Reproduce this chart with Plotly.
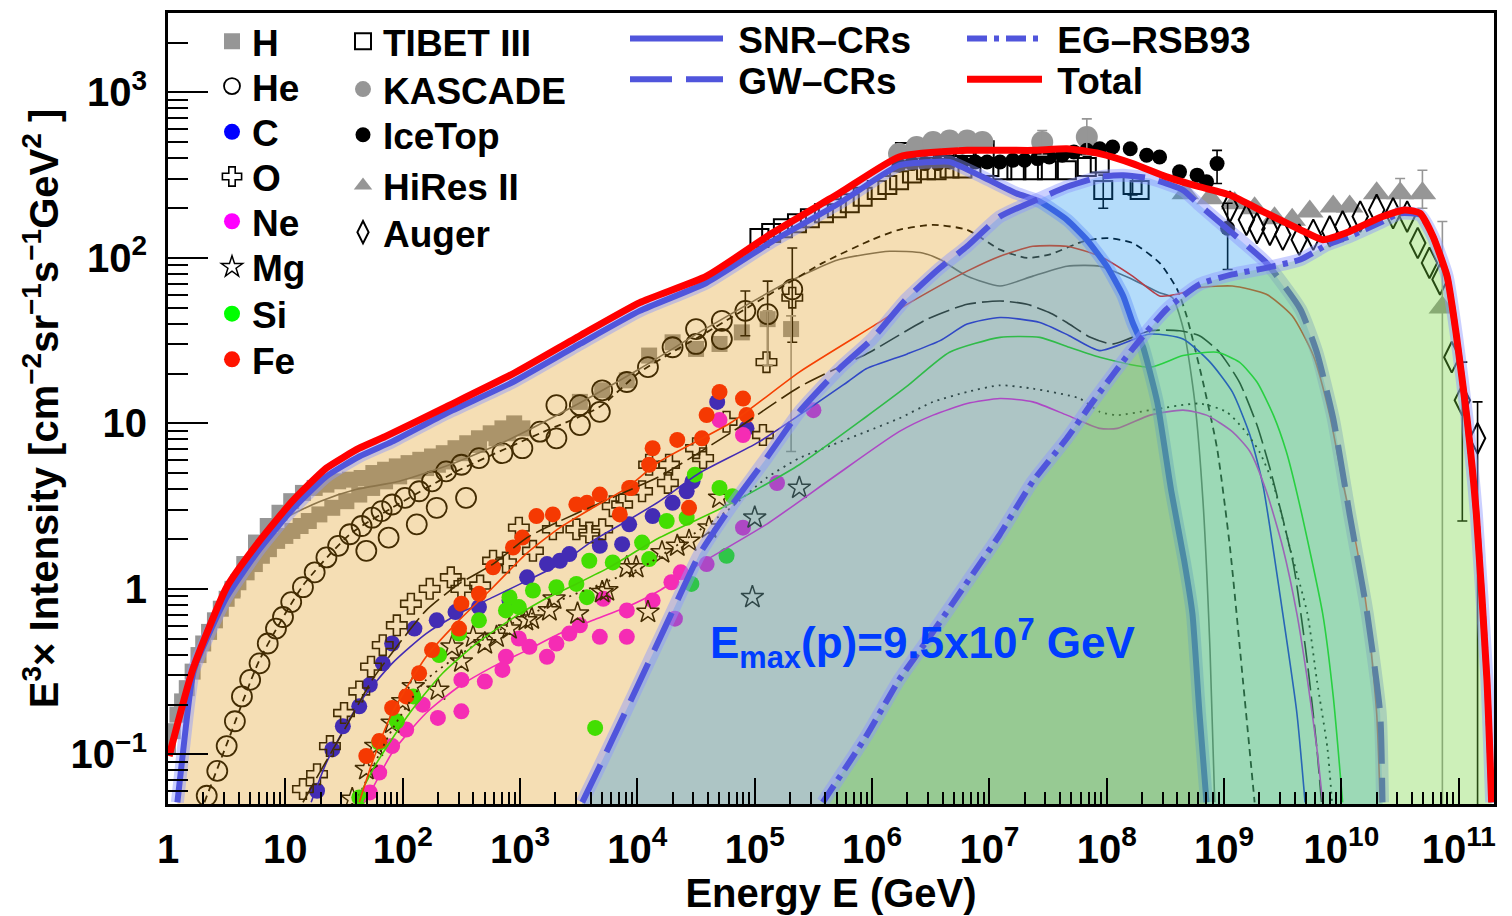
import numpy as np
import plotly.graph_objects as go

FONT = "Liberation Sans, Arial, Helvetica, sans-serif"

# ---------------- values ----------------
# energies: log10(E / GeV) ; intensities: log10(E^3 x Intensity)
H_logE = [0.0, 0.04, 0.08, 0.12, 0.16, 0.21, 0.26, 0.30, 0.35, 0.40, 0.45, 0.50, 0.55, 0.60, 0.67, 0.74, 0.80, 0.86, 0.93, 1.00,
          1.06, 1.13, 1.20, 1.29, 1.40, 1.52, 1.63, 1.74, 1.85, 1.97, 2.10, 2.20, 2.30, 2.37, 2.50, 2.65, 2.80, 2.90, 3.02, 3.51,
          3.70, 3.91, 4.10, 4.30, 4.50, 4.70, 4.89, 5.11, 5.31,
          0.55, 0.65, 0.75, 0.85, 0.95, 1.05, 1.15, 1.25, 1.35, 1.45, 1.55, 1.65, 1.75, 1.85, 1.95, 2.05, 2.15, 2.25, 2.35, 2.45,
          2.55, 2.65, 2.75, 2.85, 2.95]
H_logI = [-0.95, -0.86, -0.76, -0.68, -0.60, -0.50, -0.40, -0.33, -0.26, -0.19, -0.12, -0.06, -0.01, 0.04, 0.10, 0.15, 0.20, 0.24, 0.29, 0.32,
          0.35, 0.38, 0.41, 0.45, 0.49, 0.53, 0.57, 0.61, 0.65, 0.68, 0.71, 0.73, 0.75, 0.77, 0.82, 0.87, 0.91, 0.94, 0.97, 1.13,
          1.20, 1.26, 1.41, 1.49, 1.45, 1.48, 1.55, 1.63, 1.57,
          0.00, 0.15, 0.28, 0.38, 0.46, 0.53, 0.58, 0.61, 0.63, 0.65, 0.66, 0.67, 0.70, 0.72, 0.74, 0.76, 0.78, 0.80, 0.82, 0.85,
          0.88, 0.91, 0.94, 0.97, 1.00]

He_logE = [0.33, 0.42, 0.50, 0.57, 0.63, 0.70, 0.78, 0.85, 0.92, 0.98, 1.05, 1.15, 1.25, 1.35, 1.45, 1.55, 1.65, 1.74, 1.82, 1.91,
           2.02, 2.14, 2.25, 2.37, 2.50, 2.65, 2.85, 3.02, 3.17, 3.31, 3.51, 3.68, 3.91, 4.09,
           1.69, 1.88, 2.12, 2.29, 2.54, 3.31, 3.51, 3.70, 4.30, 4.50, 4.50, 4.72, 4.72, 4.92, 5.11, 5.32]
He_logI = [-1.25, -1.10, -0.95, -0.80, -0.65, -0.55, -0.45, -0.33, -0.24, -0.17, -0.08, 0.01, 0.10, 0.19, 0.26, 0.33, 0.38, 0.43, 0.47, 0.51,
           0.55, 0.59, 0.65, 0.71, 0.75, 0.79, 0.82, 0.85, 0.95, 0.91, 0.99, 1.07, 1.25, 1.34,
           0.23, 0.31, 0.39, 0.49, 0.55, 1.11, 1.11, 1.20, 1.46, 1.57, 1.48, 1.62, 1.51, 1.68, 1.66, 1.81]

C_logE = [1.27, 1.40, 1.49, 1.63, 1.72, 1.83, 1.91, 2.10, 2.29, 2.45, 2.65, 2.91, 3.06, 3.23, 3.34, 3.42, 3.68, 3.87, 3.93, 4.13,
          4.30, 4.42, 4.47, 4.68, 4.93]
C_logI = [-1.22, -0.97, -0.83, -0.71, -0.58, -0.45, -0.33, -0.24, -0.19, -0.14, -0.11, -0.07, 0.07, 0.15, 0.17, 0.21, 0.26, 0.27, 0.39, 0.44,
          0.52, 0.59, 0.65, 1.13, 0.97]

O_logE = [1.15, 1.27, 1.38, 1.50, 1.63, 1.73, 1.83, 1.95, 2.07, 2.23, 2.41, 2.50, 2.66, 2.77, 2.88, 2.99, 3.11, 3.28, 3.48, 3.59,
          3.70, 3.79, 3.87, 4.04, 4.10, 4.26, 4.27, 4.50, 4.56, 4.76, 5.07, 5.10, 5.32]
O_logI = [-1.21, -1.12, -0.95, -0.75, -0.62, -0.47, -0.34, -0.22, -0.09, 0.0, 0.07, 0.0, 0.02, 0.17, 0.16, 0.37, 0.23, 0.36, 0.36, 0.34,
          0.36, 0.50, 0.51, 0.59, 0.75, 0.64, 0.75, 0.85, 0.79, 1.01, 0.93, 1.37, 1.76]

Ne_logE = [1.72, 1.80, 1.91, 2.03, 2.17, 2.30, 2.50, 2.50, 2.70, 2.85, 2.88, 2.99, 3.08, 3.23, 3.31, 3.42, 3.51, 3.68, 3.71, 3.91,
           3.91, 4.13, 4.29, 4.32, 4.37, 4.59, 4.70, 4.90, 4.90, 5.19, 5.50]
Ne_logI = [-1.23, -1.11, -0.95, -0.85, -0.70, -0.78, -0.55, -0.74, -0.56, -0.49, -0.41, -0.30, -0.35, -0.41, -0.33, -0.27, -0.22, -0.29, -0.06, -0.29,
           -0.13, -0.07, 0.04, -0.18, 0.10, 0.15, 1.02, 0.37, 0.93, 0.64, 1.08]

Mg_logE = [1.57, 1.69, 1.77, 1.91, 2.00, 2.09, 2.30, 2.42, 2.50, 2.60, 2.70, 2.80, 2.91, 3.05, 3.10, 3.25, 3.29, 3.49, 3.70, 3.74,
           3.91, 3.99, 4.09, 4.21, 4.34, 4.44, 4.61, 4.70, 4.98, 5.00, 5.38]
Mg_logI = [-1.27, -1.09, -0.95, -0.81, -0.68, -0.59, -0.61, -0.35, -0.44, -0.29, -0.33, -0.29, -0.24, -0.19, -0.18, -0.13, -0.06, -0.15, -0.02, -0.01,
           0.13, 0.13, -0.14, 0.22, 0.26, 0.29, 0.37, 0.55, -0.05, 0.43, 0.61]

Si_logE = [1.63, 1.80, 1.95, 2.09, 2.31, 2.48, 2.65, 2.88, 2.91, 2.99, 3.11, 3.31, 3.48, 3.57, 3.59, 3.64, 3.79, 4.04, 4.10, 4.25,
           4.42, 4.46, 4.49, 4.70, 4.76, 4.81]
Si_logI = [-1.26, -0.93, -0.80, -0.65, -0.40, -0.27, -0.19, -0.13, -0.05, -0.11, -0.01, 0.01, 0.03, -0.05, 0.17, -0.84, 0.16, 0.28, 0.18, 0.41,
           0.43, 0.03, 0.69, 0.61, 0.20, 0.56]

Fe_logE = [1.69, 1.80, 1.91, 2.03, 2.14, 2.25, 2.48, 2.50, 2.65, 2.77, 2.94, 3.02, 3.14, 3.28, 3.48, 3.57, 3.68, 3.85, 3.93, 3.95,
           4.10, 4.13, 4.34, 4.44, 4.55, 4.59, 4.70, 4.90, 4.93]
Fe_logI = [-1.01, -0.92, -0.72, -0.65, -0.51, -0.37, -0.24, -0.09, -0.03, 0.13, 0.25, 0.31, 0.44, 0.45, 0.51, 0.52, 0.57, 0.45, 0.61, 0.61,
           0.75, 0.85, 0.90, 0.49, 0.91, 1.05, 1.19, 1.15, 1.05]

TIBET_logE = [5.04, 5.14, 5.24, 5.36, 5.47, 5.59, 5.70, 5.81, 5.92, 6.04, 6.13, 6.23, 6.34, 6.46, 6.55, 6.66, 6.77, 7.00, 7.11, 7.23,
              7.37, 7.49, 7.66, 7.83, 7.94, 7.97, 8.22, 8.28, 6.28, 6.45, 6.62, 6.79, 6.96]
TIBET_logI = [2.12, 2.15, 2.18, 2.21, 2.24, 2.27, 2.30, 2.33, 2.37, 2.41, 2.44, 2.47, 2.51, 2.53, 2.53, 2.54, 2.54, 2.55, 2.53, 2.53,
              2.53, 2.53, 2.53, 2.55, 2.57, 2.41, 2.44, 2.41, 2.64, 2.66, 2.67, 2.67, 2.65]

KASCADE_logE = [6.23, 6.38, 6.52, 6.66, 6.81, 6.94, 7.45, 7.83]
KASCADE_logI = [2.63, 2.67, 2.70, 2.71, 2.71, 2.70, 2.70, 2.73]

ICETOP_logE = [6.23, 6.34, 6.45, 6.56, 6.66, 6.77, 6.88, 6.98, 7.09, 7.20, 7.30, 7.41, 7.51, 7.62, 7.72, 7.83, 7.94, 8.05, 8.20, 8.34,
               8.45, 8.62, 8.77, 8.85, 8.94, 9.03]
ICETOP_logI = [2.56, 2.57, 2.57, 2.57, 2.58, 2.58, 2.58, 2.58, 2.58, 2.59, 2.59, 2.60, 2.61, 2.62, 2.64, 2.65, 2.66, 2.67, 2.66, 2.62,
               2.61, 2.52, 2.50, 2.46, 2.57, 2.18]

HIRES_logE = [8.67, 8.88, 9.09, 9.26, 9.43, 9.58, 9.73, 9.93, 10.07, 10.30, 10.50, 10.69, 10.86]
HIRES_logI = [2.39, 2.36, 2.33, 2.30, 2.24, 2.23, 2.28, 2.31, 2.31, 2.39, 2.39, 2.39, 1.70]

AUGER_logE = [9.05, 9.19, 9.28, 9.39, 9.50, 9.64, 9.76, 9.90, 10.01, 10.16, 10.30, 10.44, 10.56, 10.65, 10.75, 10.84, 10.94, 11.03, 11.16]
AUGER_logI = [2.31, 2.23, 2.18, 2.17, 2.14, 2.11, 2.14, 2.16, 2.19, 2.25, 2.29, 2.27, 2.25, 2.09, 1.97, 1.87, 1.40, 1.14, 0.91]

# error bars: (logE, logI, log upper, log lower)
ERR_BLACK = [(4.92, 1.68, 1.80, 1.53), (5.11, 1.66, 1.86, 1.35), (5.32, 1.81, 2.06, 1.49),
             (8.94, 2.57, 2.65, 2.45), (9.03, 2.18, 2.33, 1.93), (7.97, 2.41, 2.50, 2.30), (8.22, 2.44, 2.50, 2.38),
             (11.03, 1.14, 1.37, 0.41), (11.16, 0.91, 1.13, -3.0)]
ERR_GRAY = [(5.11, 1.63, 1.68, 1.35), (5.31, 1.57, 1.65, 0.83), (7.45, 2.70, 2.77, 2.62), (7.83, 2.73, 2.84, 2.62),
            (10.50, 2.39, 2.48, 2.30), (10.69, 2.39, 2.53, 2.30), (10.86, 1.70, 2.22, -3.0)]

# model curves
SNR_logE = [0.08, 0.14, 0.22, 0.50, 0.78, 1.06, 1.35, 1.63, 1.91, 2.37, 2.94, 3.51, 4.02, 4.59, 5.15, 5.72, 6.23, 6.52, 6.66, 6.94,
            7.23, 7.43, 7.66, 7.83, 8.00, 8.14, 8.22, 8.31, 8.43, 8.55, 8.66, 8.73, 8.79, 8.85]
SNR_logI = [-1.29, -0.91, -0.49, -0.05, 0.24, 0.48, 0.68, 0.80, 0.89, 1.06, 1.25, 1.48, 1.68, 1.85, 2.10, 2.33, 2.56, 2.58, 2.58, 2.49,
            2.39, 2.34, 2.23, 2.11, 1.95, 1.77, 1.61, 1.46, 1.13, 0.59, 0.17, -0.15, -0.75, -1.29]

GW_logE = [3.53, 3.68, 3.96, 4.25, 4.53, 4.81, 5.10, 5.38, 5.72, 6.00, 6.29, 6.58, 6.81, 7.09, 7.43, 7.66, 7.94, 8.14, 8.37, 8.65,
           8.79, 9.07, 9.36, 9.65, 9.79, 9.93, 10.07, 10.22, 10.33, 10.35]
GW_logI = [-1.29, -1.07, -0.65, -0.21, 0.21, 0.51, 0.79, 1.07, 1.33, 1.51, 1.75, 1.94, 2.07, 2.25, 2.36, 2.43, 2.49, 2.50, 2.48, 2.41,
           2.32, 2.15, 1.97, 1.69, 1.43, 1.03, 0.45, -0.15, -0.75, -1.29]

EG_logE = [5.58, 5.95, 6.23, 6.51, 6.80, 7.09, 7.37, 7.66, 7.88, 8.22, 8.51, 8.79, 9.07, 9.36, 9.65, 9.88, 10.07, 10.35, 10.50, 10.67,
           10.78, 10.90, 10.98, 11.07, 11.15, 11.24, 11.28]
EG_logI = [-1.29, -0.89, -0.55, -0.27, 0.03, 0.33, 0.65, 0.91, 1.13, 1.45, 1.69, 1.84, 1.90, 1.94, 1.99, 2.08, 2.13, 2.22, 2.27, 2.26,
           2.13, 1.89, 1.53, 1.03, 0.45, -0.55, -1.29]

TOTAL_logE = [0.01, 0.21, 0.50, 0.78, 1.06, 1.35, 1.63, 1.85, 2.37, 2.94, 3.51, 4.02, 4.59, 5.15, 5.72, 6.23, 6.81, 7.37, 7.66, 7.94,
              8.22, 8.51, 8.79, 9.05, 9.36, 9.65, 9.84, 10.07, 10.35, 10.54, 10.67, 10.78, 10.90, 10.98, 11.07, 11.15, 11.24, 11.28]
TOTAL_logI = [-1.01, -0.49, 0.01, 0.29, 0.53, 0.73, 0.85, 0.92, 1.10, 1.30, 1.53, 1.73, 1.89, 2.15, 2.39, 2.61, 2.65, 2.65, 2.66, 2.63,
              2.57, 2.49, 2.43, 2.38, 2.27, 2.17, 2.11, 2.16, 2.25, 2.29, 2.27, 2.13, 1.89, 1.53, 1.03, 0.45, -0.55, -1.29]

# per-element model lines
LH_logE = [0.10, 0.20, 0.30, 0.50, 0.70, 0.85, 1.01, 1.30, 1.60, 1.97, 2.40, 2.90, 3.50, 4.02, 4.60, 5.30, 5.72, 6.15, 6.43, 6.58,
           6.81, 7.09, 7.37, 7.66, 7.94, 8.22, 8.45, 8.56, 8.66, 8.75, 8.82, 8.88, 8.92]
LH_logI = [-1.10, -0.62, -0.35, -0.04, 0.18, 0.32, 0.43, 0.53, 0.60, 0.65, 0.75, 0.90, 1.12, 1.33, 1.58, 1.86, 1.99, 2.04, 2.03, 1.99,
           1.89, 1.83, 1.89, 1.95, 1.95, 1.87, 1.79, 1.76, 1.55, 1.13, 0.53, -0.37, -1.29]
LHe_logE = [0.31, 0.50, 0.78, 1.15, 1.55, 1.91, 2.46, 3.17, 3.68, 4.02, 4.59, 5.15, 5.58, 6.00, 6.23, 6.52, 6.81, 7.09, 7.32, 7.51,
            7.80, 8.00, 8.22, 8.45, 8.60, 8.68, 8.82, 8.94, 9.05, 9.16, 9.26]
LHe_logI = [-1.29, -0.94, -0.43, 0.02, 0.33, 0.49, 0.71, 0.94, 1.10, 1.31, 1.55, 1.79, 1.97, 2.11, 2.17, 2.20, 2.17, 2.05, 2.00, 2.02,
            2.10, 2.12, 2.09, 1.97, 1.81, 1.65, 1.25, 0.85, 0.25, -0.55, -1.29]
LC_logE = [1.22, 1.35, 1.63, 1.91, 2.20, 2.48, 2.77, 3.06, 3.34, 3.62, 3.91, 4.19, 4.53, 5.04, 5.79, 5.95, 6.30, 6.58, 6.81, 7.09,
           7.43, 7.68, 7.94, 8.37, 8.65, 8.88, 9.07, 9.22, 9.33, 9.50, 9.62, 9.69]
LC_logI = [-1.29, -1.05, -0.69, -0.45, -0.27, -0.15, -0.05, 0.05, 0.15, 0.29, 0.41, 0.53, 0.70, 0.89, 1.25, 1.33, 1.42, 1.50, 1.60, 1.64,
           1.61, 1.53, 1.44, 1.54, 1.51, 1.37, 1.19, 0.93, 0.63, -0.15, -0.75, -1.29]
LO_logE = [1.15, 1.26, 1.52, 1.74, 1.97, 2.20, 2.48, 2.77, 3.06, 3.34, 3.62, 3.91, 4.19, 4.81, 5.38, 5.98, 6.47, 6.81, 7.09, 7.32,
           7.51, 7.66, 7.86, 8.05, 8.37, 8.62, 8.79, 8.96, 9.13, 9.28, 9.39, 9.59, 9.71, 9.79, 9.83]
LO_logI = [-1.29, -1.15, -0.83, -0.55, -0.33, -0.13, 0.03, 0.15, 0.31, 0.41, 0.50, 0.59, 0.68, 0.95, 1.22, 1.43, 1.63, 1.72, 1.74, 1.72,
           1.67, 1.61, 1.52, 1.48, 1.56, 1.56, 1.53, 1.43, 1.25, 0.99, 0.73, 0.15, -0.45, -0.96, -1.29]
LNe_logE = [1.67, 1.74, 1.91, 2.20, 2.48, 2.77, 3.06, 3.34, 3.62, 3.91, 4.19, 4.53, 5.10, 5.66, 6.23, 6.52, 6.81, 7.09, 7.37, 7.66,
            7.94, 8.09, 8.37, 8.65, 8.85, 9.07, 9.22, 9.36, 9.50, 9.62, 9.71, 9.79, 9.84]
LNe_logI = [-1.29, -1.21, -0.99, -0.75, -0.59, -0.47, -0.37, -0.27, -0.19, -0.11, -0.01, 0.15, 0.39, 0.67, 0.95, 1.05, 1.12, 1.15, 1.13, 1.05,
            0.97, 0.97, 1.05, 1.08, 1.05, 0.95, 0.83, 0.59, 0.25, -0.15, -0.55, -0.96, -1.29]
LMg_logE = [1.60, 1.91, 2.20, 2.77, 3.34, 3.76, 4.04, 4.76, 5.10, 5.38, 5.66, 5.95, 6.23, 6.52, 6.81, 7.09, 7.37, 7.77, 7.94, 8.09,
            8.37, 8.79, 9.02, 9.16, 9.30, 9.42, 9.56, 9.71, 9.79, 9.88, 9.92]
LMg_logI = [-1.29, -0.85, -0.55, -0.27, -0.07, 0.05, 0.13, 0.47, 0.67, 0.79, 0.87, 0.95, 1.03, 1.13, 1.19, 1.23, 1.21, 1.15, 1.07, 1.05,
            1.08, 1.12, 1.07, 0.97, 0.83, 0.63, 0.25, -0.15, -0.55, -0.96, -1.29]
LSi_logE = [1.60, 1.78, 2.06, 2.34, 2.63, 2.91, 3.19, 3.48, 3.76, 4.19, 4.81, 5.38, 5.95, 6.29, 6.66, 7.09, 7.43, 7.68, 7.94, 8.37,
            8.65, 8.94, 9.13, 9.28, 9.42, 9.53, 9.64, 9.84, 9.93, 10.01]
LSi_logI = [-1.29, -1.05, -0.75, -0.51, -0.33, -0.19, -0.07, 0.03, 0.13, 0.31, 0.52, 0.75, 1.04, 1.22, 1.43, 1.52, 1.52, 1.46, 1.40, 1.34,
            1.41, 1.43, 1.37, 1.25, 1.05, 0.83, 0.52, -0.15, -0.65, -1.29]
LFe_logE = [1.63, 1.74, 1.91, 2.20, 2.48, 2.77, 3.05, 3.34, 3.62, 3.91, 4.19, 4.81, 5.38, 6.06, 6.23, 6.52, 6.81, 7.09, 7.37, 7.66,
            7.94, 8.22, 8.45, 8.60, 8.79, 9.07, 9.36, 9.58, 9.76, 9.90, 10.01, 10.13, 10.22, 10.30, 10.33]
LFe_logI = [-1.29, -1.05, -0.75, -0.41, -0.19, 0.01, 0.21, 0.37, 0.49, 0.61, 0.77, 1.01, 1.31, 1.61, 1.69, 1.81, 1.92, 2.01, 2.07, 2.07,
            2.01, 1.89, 1.77, 1.78, 1.82, 1.83, 1.78, 1.65, 1.41, 1.05, 0.65, 0.25, -0.15, -0.75, -1.29]

X_TICK_TEXT = ["1", "10"] + [f"10<sup>{k}</sup>" for k in range(2, 12)]
Y_TICK_TEXT = ["10<sup>\u22121</sup>", "1", "10", "10<sup>2</sup>", "10<sup>3</sup>"]

# ---------------- geometry of the frame (pixels) ----------------
W, H = 1512, 916
PL, PR, PT, PB = 168, 1494, 8, 804
PW, PH = PR - PL, PB - PT
NBSP = "\u00a0"


def lin(a):
    return (10.0 ** np.asarray(a, dtype=float)).tolist()


fig = go.Figure()
LEG = {}


def legend_at(left_px, center_px, itemwidth=30):
    key = "legend" if not LEG else f"legend{len(LEG) + 1}"
    LEG[key] = dict(x=(left_px - PL) / PW, y=(PB - center_px) / PH, xanchor="left", yanchor="middle",
                    bgcolor="rgba(0,0,0,0)", borderwidth=0, itemwidth=itemwidth,
                    font=dict(family=FONT, size=37, color="black", weight="bold"))
    return key


# ---- data markers (drawn first, the translucent fills go over them) ----
elements = [
    ("H", H_logE, H_logI, dict(symbol="square", size=16, color="rgb(150,150,150)"), 37),
    ("He", He_logE, He_logI, dict(symbol="circle-open", size=20, color="black", line=dict(width=1.8)), 82),
    ("C", C_logE, C_logI, dict(symbol="circle", size=16, color="rgb(0,0,255)"), 128),
    ("O", O_logE, O_logI, dict(symbol="cross-open", size=17, color="black", line=dict(width=1.6)), 173),
    ("Ne", Ne_logE, Ne_logI, dict(symbol="circle", size=16, color="rgb(255,0,255)"), 218),
    ("Mg", Mg_logE, Mg_logI, dict(symbol="star-open", size=17, color="black", line=dict(width=1.5)), 264),
    ("Si", Si_logE, Si_logI, dict(symbol="circle", size=16, color="rgb(0,255,0)"), 311),
    ("Fe", Fe_logE, Fe_logI, dict(symbol="circle", size=16, color="rgb(255,20,0)"), 357),
]
for name, le, li, mk, yc in elements:
    fig.add_trace(go.Scatter(x=lin(le), y=lin(li), mode="markers", name=name, marker=mk,
                             legend=legend_at(212, yc), hoverinfo="skip"))

experiments = [
    ("TIBET III", TIBET_logE, TIBET_logI, dict(symbol="square-open", size=18, color="black", line=dict(width=2)), 37),
    ("KASCADE", KASCADE_logE, KASCADE_logI, dict(symbol="circle", size=22, color="rgb(150,150,150)"), 85),
    ("IceTop", ICETOP_logE, ICETOP_logI, dict(symbol="circle", size=15, color="black"), 131),
    ("HiRes II", HIRES_logE, HIRES_logI, dict(symbol="triangle-up", size=24, color="rgb(150,150,150)"), 182),
    ("Auger", AUGER_logE, AUGER_logI, dict(symbol="diamond-tall-open", size=22, color="black", line=dict(width=2)), 229),
]
for name, le, li, mk, yc in experiments:
    fig.add_trace(go.Scatter(x=lin(le), y=lin(li), mode="markers", name=name, marker=mk,
                             legend=legend_at(343, yc), hoverinfo="skip"))

# ---- error bars ----
for errs, col in ((ERR_BLACK, "black"), (ERR_GRAY, "rgb(150,150,150)")):
    ex = lin([e[0] for e in errs])
    ey = lin([e[1] for e in errs])
    up = [10 ** e[2] - 10 ** e[1] for e in errs]
    dn = [10 ** e[1] - 10 ** e[3] for e in errs]
    fig.add_trace(go.Scatter(x=ex, y=ey, mode="markers", showlegend=False, hoverinfo="skip",
                             marker=dict(size=1, color="rgba(0,0,0,0)"),
                             error_y=dict(type="data", symmetric=False, array=up, arrayminus=dn,
                                          color=col, thickness=1.6, width=5)))

# ---- per-element model lines ----
elem_lines = [
    (LH_logE, LH_logI, "rgb(105,105,105)", "solid", 1.6),
    (LHe_logE, LHe_logI, "black", "7px,5px", 1.8),
    (LC_logE, LC_logI, "rgb(0,0,255)", "solid", 1.6),
    (LO_logE, LO_logI, "black", "22px,6px", 1.6),
    (LNe_logE, LNe_logI, "rgb(255,0,255)", "solid", 1.6),
    (LMg_logE, LMg_logI, "black", "2px,5px", 1.8),
    (LSi_logE, LSi_logI, "rgb(0,235,0)", "solid", 1.6),
    (LFe_logE, LFe_logI, "rgb(255,30,0)", "solid", 1.6),
]
for le, li, col, dash, w in elem_lines:
    fig.add_trace(go.Scatter(x=lin(le), y=lin(li), mode="lines", showlegend=False, hoverinfo="skip",
                             line=dict(color=col, dash=dash, width=w, shape="spline", smoothing=0.6)))

# ---- model components: translucent fill + outline ----
components = [
    (NBSP + "SNR\u2013CRs", SNR_logE, SNR_logI, "rgba(222,145,5,0.30)", "solid", 625, 34, 93),
    (NBSP + "GW\u2013CRs", GW_logE, GW_logI, "rgba(5,138,238,0.30)", "42px,14px", 625, 75, 93),
    (NBSP + "EG\u2013RSB93", EG_logE, EG_logI, "rgba(112,212,55,0.35)", "20px,7px,5px,7px", 962, 34, 75),
]
for name, le, li, fillc, dash, lx, ly, iw in components:
    xs = lin(le)
    ys = lin(li)
    fig.add_trace(go.Scatter(x=xs + [xs[-1], xs[0]], y=ys + [1e-4, 1e-4], mode="lines", fill="toself",
                             fillcolor=fillc, line=dict(width=0), showlegend=False, hoverinfo="skip"))
    fig.add_trace(go.Scatter(x=xs, y=ys, mode="lines", showlegend=False, hoverinfo="skip",
                             line=dict(color="rgba(140,150,255,0.45)", width=13, shape="spline", smoothing=0.5)))
    fig.add_trace(go.Scatter(x=xs, y=ys, mode="lines", name=name, hoverinfo="skip",
                             line=dict(color="rgb(80,85,220)", width=6, dash=dash, shape="spline", smoothing=0.5),
                             legend=legend_at(lx, ly, iw)))

fig.add_trace(go.Scatter(x=lin(TOTAL_logE), y=lin(TOTAL_logI), mode="lines", name=NBSP + "Total", hoverinfo="skip",
                         line=dict(color="rgb(255,0,0)", width=7, shape="spline", smoothing=0.5),
                         legend=legend_at(962, 75, 75)))

minor_x = [k * 10.0 ** n for n in range(0, 12) for k in range(2, 10)]
minor_y = [k * 10.0 ** n for n in range(-2, 4) for k in range(2, 10)]

axis_common = dict(type="log", showgrid=False, zeroline=False, showline=True, linewidth=3, linecolor="black",
                   mirror=True, ticks="inside", tickwidth=2, tickcolor="black",
                   tickfont=dict(family=FONT, size=40, color="black", weight="bold"))

fig.update_layout(
    width=W, height=H,
    margin=dict(l=PL, r=W - PR, t=PT, b=H - PB),
    paper_bgcolor="white", plot_bgcolor="white",
    font=dict(family=FONT, color="black"),
    xaxis=dict(axis_common, range=[0, 11.3], tickmode="array", tickvals=[10.0 ** k for k in range(12)],
               ticktext=X_TICK_TEXT, ticklen=26, ticklabelstandoff=8,
               minor=dict(tickmode="array", tickvals=minor_x, ticks="inside", ticklen=12, tickwidth=2, tickcolor="black"),
               title=dict(text="Energy E (GeV)", font=dict(family=FONT, size=40, weight="bold"), standoff=6)),
    yaxis=dict(axis_common, range=[-1.3, 3.48], tickmode="array", tickvals=[0.1, 1, 10, 100, 1000],
               ticktext=Y_TICK_TEXT, ticklen=40, ticklabelstandoff=10,
               minor=dict(tickmode="array", tickvals=minor_y, ticks="inside", ticklen=20, tickwidth=2, tickcolor="black"),
               title=dict(text="E<sup>3</sup>\u00d7 Intensity [cm<sup>\u22122</sup>sr<sup>\u22121</sup>s<sup>\u22121</sup>GeV<sup>2</sup> ]",
                          font=dict(family=FONT, size=40, weight="bold"), standoff=0)),
    annotations=[dict(text="E<sub>max</sub>(p)=9.5x10<sup>7</sup> GeV", xref="paper", yref="paper",
                      x=(708 - PL) / PW, y=(PB - 642) / PH, xanchor="left", yanchor="middle", showarrow=False,
                      font=dict(family=FONT, size=44, color="rgb(0,60,255)", weight="bold"))],
    **LEG,
)

fig.write_html("out.html", config={"displayModeBar": False},
               post_script="document.body.style.margin='0px';")
